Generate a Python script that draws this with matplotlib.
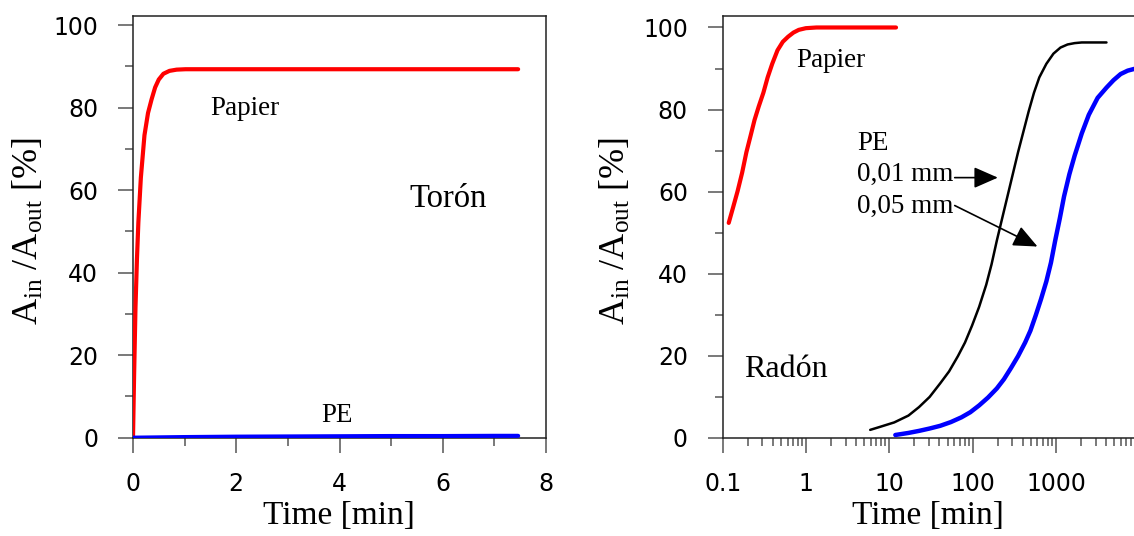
import matplotlib
matplotlib.use('Agg')
import matplotlib.pyplot as plt
from matplotlib.ticker import MultipleLocator, LogLocator, FixedLocator, FixedFormatter, NullFormatter

plt.rcParams['mathtext.fontset'] = 'custom'
plt.rcParams['mathtext.rm'] = 'Liberation Serif'
plt.rcParams['mathtext.it'] = 'Liberation Serif:italic'

SERIF = 'Liberation Serif'
SANS = 'DejaVu Sans'

# Torón - linear time axis
thoron_t_paper = [0, 0.021, 0.048, 0.076, 0.104, 0.152, 0.222, 0.291, 0.36, 0.429, 0.499,
                  0.589, 0.706, 0.845, 1.018, 2, 3, 4, 5, 6, 7, 7.46]
thoron_paper = [0, 14.9, 31.5, 43.1, 52.2, 63.0, 73.3, 78.7, 82.0, 84.9, 86.8,
                88.2, 88.9, 89.2, 89.3, 89.3, 89.3, 89.3, 89.3, 89.3, 89.3, 89.3]
thoron_t_pe = [0, 1, 2, 3, 4, 5, 6, 7, 7.46]
thoron_pe = [0, 0.15, 0.25, 0.3, 0.35, 0.4, 0.4, 0.45, 0.45]

# Radón - logarithmic time axis
radon_t_paper = [0.1181, 0.1341, 0.1508, 0.1712, 0.1925, 0.2144, 0.2411, 0.2711, 0.3078,
                 0.3462, 0.393, 0.4551, 0.5271, 0.6104, 0.7068, 0.8184, 0.9952, 1.335,
                 2.176, 12.04]
radon_paper = [52.36, 56.34, 60.07, 64.62, 69.59, 73.32, 77.46, 80.78, 84.09,
               87.82, 91.14, 94.45, 96.52, 97.76, 98.76, 99.42, 99.83, 100.0,
               100.0, 100.0]
radon_t_pe01 = [5.9, 7.76, 11.47, 16.96, 22.73, 30.49, 40.88, 52.2, 66.64, 81.03, 98.54,
                119.8, 145.7, 168.8, 195.4, 226.2, 262.0, 303.4, 351.3, 406.8, 471.0,
                545.4, 631.6, 768.1, 933.9, 1135.7, 1380.9, 1679.5, 2042, 4046]
radon_pe01 = [1.91, 2.65, 3.73, 5.39, 7.46, 9.94, 13.26, 16.16, 19.88, 23.2, 27.34,
              31.9, 37.28, 42.25, 48.05, 53.44, 58.82, 64.21, 69.59, 74.57, 79.54,
              84.09, 87.82, 91.14, 93.62, 95.11, 95.86, 96.19, 96.35, 96.35]
radon_t_pe05 = [11.81, 16.96, 22.73, 30.49, 40.88, 54.82, 73.49, 93.85, 119.8, 152.97,
                195.4, 237.6, 288.8, 351.3, 427.2, 494.6, 572.8, 663.3, 768.1, 872.2,
                980.7, 1113.4, 1252.4, 1450.3, 1679.5, 2042, 2483, 3170, 4048, 4922,
                5985, 7278, 8680, 10000]
radon_pe05 = [0.66, 1.16, 1.66, 2.24, 2.9, 3.81, 4.97, 6.21, 7.87, 9.78,
              12.01, 14.25, 16.98, 19.88, 23.2, 26.1, 29.83, 33.8, 38.11, 42.67,
              48.05, 53.44, 58.82, 64.21, 68.77, 74.15, 78.71, 82.85, 85.34, 87.16,
              88.65, 89.48, 89.89, 90.1]

log_ticks = [0.1, 1, 10, 100, 1000, 10000]
log_labels = ['0.1', '1', '10', '100', '1000', '']

W, H = 1134, 536
fig = plt.figure(figsize=(W / 100, H / 100), dpi=100)
ax1 = fig.add_axes([133 / W, (H - 437.7) / H, 413 / W, 421.7 / H])
ax2 = fig.add_axes([722.7 / W, (H - 437.7) / H, 416.5 / W, 421.7 / H])

ylabel = r'$\mathrm{A_{in}\ /A_{out}}$ [%]'


def style(ax):
    for s in ax.spines.values():
        s.set_color('#222222')
        s.set_linewidth(1.1)
    ax.tick_params(which='major', direction='out', length=11, width=1.1, color='#555555',
                   labelsize=17, pad=14)
    ax.tick_params(which='minor', direction='out', length=5.5, width=1.1, color='#555555')
    for lab in ax.get_xticklabels() + ax.get_yticklabels():
        lab.set_fontfamily(SANS)
    ax.yaxis.set_major_locator(MultipleLocator(20))
    ax.yaxis.set_minor_locator(MultipleLocator(10))
    ax.set_ylabel(ylabel, fontsize=26, family=SERIF)
    ax.set_xlabel('Time [min]', fontsize=24, family=SERIF)


line_kw = dict(solid_capstyle='round', solid_joinstyle='round', zorder=3)

# left: Torón
ax1.plot(thoron_t_paper, thoron_paper, color='#ff0000', lw=3.0, **line_kw)
ax1.plot(thoron_t_pe, thoron_pe, color='#0000ff', lw=3.0, **line_kw)
ax1.set_xlim(0, 8)
ax1.xaxis.set_major_locator(MultipleLocator(2))
ax1.xaxis.set_minor_locator(MultipleLocator(1))
style(ax1)
ax1.set_ylim(0, 102.2)
ax1.text(2.16, 79.7, 'Papier', fontsize=19.5, family=SERIF, ha='center', va='center')
ax1.text(6.1, 58, 'Torón', fontsize=23.5, family=SERIF, ha='center', va='center')
ax1.text(3.96, 5.4, 'PE', fontsize=19.5, family=SERIF, ha='center', va='center')
ax1.yaxis.set_label_coords(-0.21, 0.49)
ax1.xaxis.set_label_coords(0.499, -0.15)

# right: Radón
ax2.plot(radon_t_paper, radon_paper, color='#ff0000', lw=3.0, **line_kw)
ax2.plot(radon_t_pe01, radon_pe01, color='black', lw=1.8, **line_kw)
ax2.plot(radon_t_pe05, radon_pe05, color='#0000ff', lw=3.2, **line_kw)
ax2.set_xscale('log')
ax2.set_xlim(0.1, 10000)
ax2.xaxis.set_major_locator(FixedLocator(log_ticks))
ax2.xaxis.set_major_formatter(FixedFormatter(log_labels))
ax2.xaxis.set_minor_locator(LogLocator(base=10, subs=range(2, 10), numticks=20))
ax2.xaxis.set_minor_formatter(NullFormatter())
style(ax2)
ax2.set_ylim(0, 102.8)
ax2.text(1.97, 92, 'Papier', fontsize=19.5, family=SERIF, ha='center', va='center')
ax2.text(0.58, 16.6, 'Radón', fontsize=23, family=SERIF, ha='center', va='center')
ax2.text(4.1, 71.7, 'PE', fontsize=19.5, family=SERIF, ha='left', va='center')
ax2.text(4.1, 64.2, '0,01 mm', fontsize=19.5, family=SERIF, ha='left', va='center')
ax2.text(4.1, 56.3, '0,05 mm', fontsize=19.5, family=SERIF, ha='left', va='center')
arrow = dict(arrowstyle='-|>,head_length=1.48,head_width=0.65', mutation_scale=10,
             color='black', lw=1.2, shrinkA=0, shrinkB=0)
ax2.annotate('', xy=(201, 63.4), xytext=(61, 63.4), arrowprops=arrow)
ax2.annotate('', xy=(601, 46.6), xytext=(61, 56.6), arrowprops=arrow)
ax2.yaxis.set_label_coords(-0.215, 0.49)
ax2.xaxis.set_label_coords(0.493, -0.15)

fig.savefig('out.png', dpi=100, facecolor='white')
